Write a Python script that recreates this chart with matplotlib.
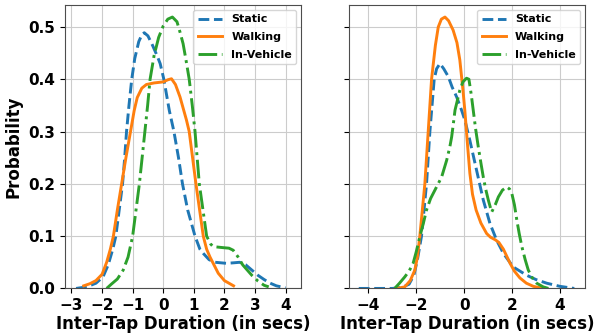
"""Inter-tap duration densities per activity (static / walking / in-vehicle),
two users side by side, shared probability axis.

Curves are KDE traces read off the original figure; x values are seconds.
"""

import matplotlib

matplotlib.use("Agg")  # headless: render to file only
import matplotlib.pyplot as plt

LABELS = ("Static", "Walking", "In-Vehicle")
COLORS = ("#1f77b4", "#ff7f0e", "#2ca02c")
STYLES = ("--", "-", "-.")

# --- left panel ------------------------------------------------------------ #
L_STATIC_X = [-2.85, -2.5, -2.2, -1.97, -1.8, -1.65, -1.55, -1.44, -1.33, -1.26, -1.2,
              -1.12, -1.03, -0.93, -0.8, -0.7, -0.62, -0.5, -0.35, -0.2, -0.1, 0.02, 0.2,
              0.35, 0.5, 0.63, 0.8, 1.04, 1.2, 1.31, 1.5, 1.7, 2.07, 2.3, 2.5, 2.7, 2.9,
              3.1, 3.3, 3.5, 3.7, 4.0]
L_STATIC_Y = [0.0, 0.003, 0.01, 0.022, 0.045, 0.075, 0.1, 0.15, 0.2, 0.25, 0.3,
              0.35, 0.4, 0.44, 0.472, 0.485, 0.489, 0.483, 0.465, 0.445, 0.43, 0.4, 0.34,
              0.3, 0.25, 0.2, 0.15, 0.1, 0.075, 0.067, 0.055, 0.05, 0.048, 0.049, 0.05,
              0.045, 0.035, 0.025, 0.017, 0.01, 0.005, 0.001]

L_WALK_X = [-2.6, -2.4, -2.2, -2.0, -1.85, -1.73, -1.63, -1.5, -1.36, -1.22, -1.07, -0.95,
            -0.85, -0.7, -0.55, -0.3, 0.0, 0.15, 0.27, 0.4, 0.55, 0.76, 0.85, 0.96, 1.07,
            1.19, 1.31, 1.42, 1.53, 1.8, 2.0, 2.3]
L_WALK_Y = [0.005, 0.009, 0.015, 0.027, 0.05, 0.075, 0.1, 0.15, 0.2, 0.25, 0.3, 0.34,
            0.365, 0.383, 0.39, 0.393, 0.395, 0.399, 0.401, 0.39, 0.366, 0.322, 0.3, 0.25,
            0.2, 0.15, 0.1, 0.075, 0.06, 0.029, 0.015, 0.005]

L_CAR_X = [-1.85, -1.7, -1.5, -1.31, -1.15, -1.0, -0.89, -0.78, -0.69, -0.6, -0.51, -0.43,
           -0.3, -0.15, 0.0, 0.15, 0.3, 0.45, 0.55, 0.65, 0.75, 0.85, 0.95, 1.04, 1.11,
           1.18, 1.3, 1.42, 1.55, 1.63, 1.96, 2.15, 2.29, 2.45, 2.6, 2.75, 2.9, 3.1, 3.3,
           3.45]
L_CAR_Y = [0.0, 0.008, 0.018, 0.035, 0.06, 0.1, 0.15, 0.2, 0.25, 0.3, 0.35, 0.4,
           0.445, 0.48, 0.502, 0.515, 0.519, 0.51, 0.49, 0.468, 0.435, 0.4, 0.35, 0.3,
           0.25, 0.2, 0.15, 0.1, 0.085, 0.08, 0.078, 0.077, 0.073, 0.06, 0.045, 0.035,
           0.025, 0.014, 0.006, 0.003]

# --- right panel ----------------------------------------------------------- #
R_STATIC_X = [-4.4, -3.5, -3.0, -2.6, -2.3, -2.1, -1.95, -1.78, -1.57, -1.43, -1.25,
              -1.15, -1.01, -0.85, -0.66, -0.5, -0.31, -0.1, 0.03, 0.24, 0.52, 0.8, 1.08,
              1.36, 1.64, 2.05, 2.62, 3.0, 3.45, 4.0, 4.6]
R_STATIC_Y = [0.0, 0.0, 0.0, 0.002, 0.008, 0.025, 0.055, 0.1, 0.2, 0.3, 0.4, 0.42,
              0.43, 0.42, 0.405, 0.385, 0.366, 0.34, 0.322, 0.283, 0.226, 0.169, 0.124,
              0.092, 0.067, 0.041, 0.025, 0.017, 0.01, 0.004, 0.0]

R_WALK_X = [-2.8, -2.48, -2.25, -2.06, -1.95, -1.85, -1.64, -1.5, -1.36, -1.2, -1.08,
            -0.95, -0.8, -0.65, -0.46, -0.3, -0.18, -0.05, 0.03, 0.15, 0.24, 0.35, 0.5,
            0.7, 0.94, 1.1, 1.3, 1.45, 1.64, 1.92, 2.1, 2.33, 2.6, 2.89, 3.3]
R_WALK_Y = [0.0, 0.003, 0.015, 0.035, 0.06, 0.1, 0.2, 0.3, 0.4, 0.465, 0.5, 0.515,
            0.519, 0.512, 0.494, 0.47, 0.437, 0.38, 0.34, 0.27, 0.22, 0.18, 0.15, 0.125,
            0.105, 0.098, 0.093, 0.088, 0.075, 0.048, 0.033, 0.02, 0.01, 0.004, 0.0]

R_CAR_X = [-2.9, -2.7, -2.48, -2.3, -2.13, -2.0, -1.85, -1.7, -1.57, -1.4, -1.22, -0.94,
           -0.73, -0.6, -0.52, -0.45, -0.38, -0.28, -0.18, -0.05, 0.1, 0.2, 0.3, 0.38,
           0.48, 0.59, 0.7, 0.8, 0.9, 1.01, 1.15, 1.3, 1.43, 1.6, 1.78, 1.9, 1.99, 2.1,
           2.2, 2.3, 2.41, 2.55, 2.68, 2.85, 3.03, 3.3, 3.52]
R_CAR_Y = [0.0, 0.01, 0.022, 0.033, 0.048, 0.07, 0.099, 0.125, 0.15, 0.172, 0.188, 0.213,
           0.245, 0.27, 0.29, 0.315, 0.341, 0.36, 0.379, 0.395, 0.402, 0.4, 0.37, 0.341,
           0.305, 0.271, 0.24, 0.213, 0.19, 0.169, 0.146, 0.16, 0.175, 0.188, 0.194, 0.19,
           0.182, 0.16, 0.131, 0.105, 0.08, 0.055, 0.035, 0.02, 0.01, 0.003, 0.0]

BOLD = {"fontweight": "bold"}


def panel(ax, curves, xlim, xticks):
    for (xs, ys), label, color, ls in zip(curves, LABELS, COLORS, STYLES):
        ax.plot(xs, ys, color=color, ls=ls, lw=2.1, label=label)
    ax.set_xlim(*xlim)
    ax.set_xticks(xticks)
    ax.grid(True, color="0.8", lw=0.8)
    ax.set_axisbelow(True)
    for s in ax.spines.values():
        s.set_color("0.3")
    ax.set_xlabel("Inter-Tap Duration (in secs)", fontsize=12, labelpad=1, **BOLD)
    for t in ax.get_xticklabels() + ax.get_yticklabels():
        t.set_fontsize(11)
        t.set_fontweight("bold")
    leg = ax.legend(loc="upper right", prop={"size": 8, "weight": "bold"},
                    borderaxespad=0.45, handlelength=2.2, labelspacing=0.7)
    leg.get_frame().set_edgecolor("0.8")


fig, (ax1, ax2) = plt.subplots(1, 2, figsize=(5.97, 3.35), dpi=100, sharey=True)
fig.subplots_adjust(left=0.109, right=0.980, bottom=0.139, top=0.985, wspace=0.2)

ax1.set_ylim(0, 0.542)
ax1.set_yticks([0.0, 0.1, 0.2, 0.3, 0.4, 0.5])
panel(ax1, [(L_STATIC_X, L_STATIC_Y), (L_WALK_X, L_WALK_Y), (L_CAR_X, L_CAR_Y)],
      (-3.21, 4.52), [-3, -2, -1, 0, 1, 2, 3, 4])
panel(ax2, [(R_STATIC_X, R_STATIC_Y), (R_WALK_X, R_WALK_Y), (R_CAR_X, R_CAR_Y)],
      (-4.82, 5.05), [-4, -2, 0, 2, 4])
ax1.set_ylabel("Probability", fontsize=12, **BOLD)

fig.savefig("out.png")
